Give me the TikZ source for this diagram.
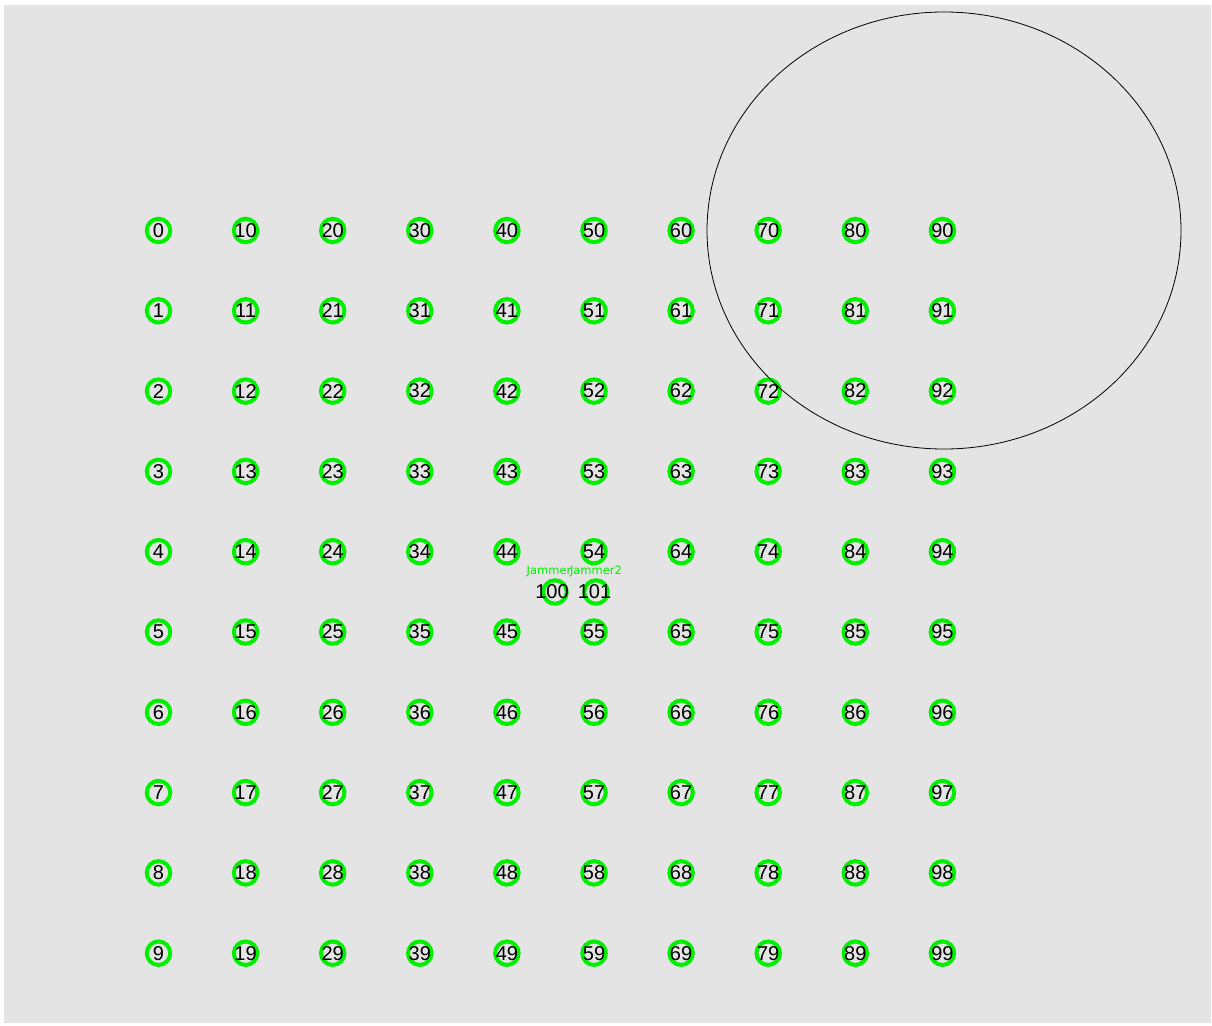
\documentclass[tikz,border=0pt]{standalone}
\usepackage{fontspec}
\setmainfont{Liberation Sans}
\newfontfamily\labelfont{DejaVu Sans}
\definecolor{bggray}{RGB}{228,228,228}
\definecolor{ringgreen}{RGB}{0,240,0}
\begin{document}
\begin{tikzpicture}[x=1pt,y=-1pt,
  ring/.style={circle,draw=ringgreen,line width=4pt,minimum size=23.5pt,inner sep=0pt,
    font=\fontsize{20}{20}\selectfont,text=black},
  jamlabel/.style={inner sep=0pt,text=ringgreen,font=\labelfont\fontsize{11.5}{11.5}\selectfont},
  zone/.style={draw=black,line width=0.8pt}]
  \useasboundingbox (0,0) rectangle (1212,1025);
  \fill[white] (0,0) rectangle (1212,1025);
  \fill[bggray] (4,5) rectangle (1211,1023);
  \foreach \c in {0,...,9}{
    \foreach \r in {0,...,9}{
      \pgfmathtruncatemacro{\id}{10*\c+\r}
      \node[ring] (n\id) at ({158.5+87.1*\c},{230.5+80.3*\r}) {\makebox[0pt]{\id}};
    }
  }
  \node[ring] (n100) at (555,592) {\makebox[0pt]{\hspace{-6pt}100}};
  \node[ring] (n101) at (596,592) {\makebox[0pt]{\hspace{-3pt}101}};
  \node[jamlabel] (j1) at (549,571.5) {Jammer};
  \node[jamlabel] (j2) at (596,571.5) {Jammer2};
  \draw[zone] (944,230.5) ellipse [x radius=237, y radius=218.5];
\end{tikzpicture}
\end{document}
